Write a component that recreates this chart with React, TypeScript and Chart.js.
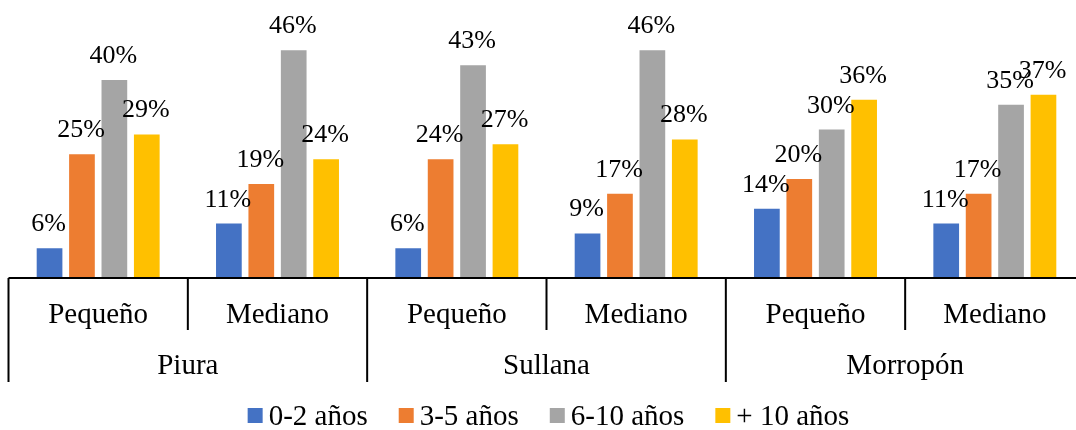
import React, { useEffect, useRef } from "react";
import { Chart, registerables } from "chart.js";

Chart.register(...registerables);

const categories = ["Pequeño", "Mediano", "Pequeño", "Mediano", "Pequeño", "Mediano"];
const regions = ["Piura", "Sullana", "Morropón"];
const seriesNames = ["0-2 años", "3-5 años", "6-10 años", "+ 10 años"];
const s0a2 = [6, 11, 6, 9, 14, 11];
const s3a5 = [25, 19, 24, 17, 20, 17];
const s6a10 = [40, 46, 43, 46, 30, 35];
const sMas10 = [29, 24, 27, 28, 36, 37];
const colors = ["#4472C4", "#ED7D31", "#A5A5A5", "#FFC000"];

const FONT = '"Liberation Serif", "Times New Roman", serif';

const multiAxisPlugin = {
  id: "multiAxisPlugin",
  afterDatasetsDraw(chart: any) {
    const ctx = chart.ctx;
    ctx.save();
    ctx.font = `26px ${FONT}`;
    ctx.fillStyle = "#000";
    ctx.textAlign = "center";
    ctx.textBaseline = "alphabetic";
    chart.data.datasets.forEach((ds: any, di: number) => {
      const meta = chart.getDatasetMeta(di);
      meta.data.forEach((el: any, i: number) => {
        ctx.fillText(`${ds.data[i]}%`, el.x - 1, el.y - 17);
      });
    });
    ctx.restore();
  },
  afterDraw(chart: any) {
    const ctx = chart.ctx;
    const area = chart.chartArea;
    const x = chart.scales.x;
    const n = categories.length;
    const c0 = x.getPixelForValue(0);
    const w = x.getPixelForValue(1) - c0;
    const bound = (k: number) => c0 - w / 2 + k * w;
    const base = area.bottom;
    ctx.save();
    ctx.strokeStyle = "#000";
    ctx.lineWidth = 2;
    ctx.beginPath();
    ctx.moveTo(bound(0), base);
    ctx.lineTo(bound(n), base);
    for (let k = 0; k <= n; k++) {
      const len = k % 2 === 0 ? 104 : 52;
      ctx.moveTo(bound(k), base);
      ctx.lineTo(bound(k), base + len);
    }
    ctx.stroke();
    ctx.fillStyle = "#000";
    ctx.font = `29px ${FONT}`;
    ctx.textAlign = "center";
    ctx.textBaseline = "alphabetic";
    categories.forEach((c, i) => {
      ctx.fillText(c, x.getPixelForValue(i), base + 45);
    });
    regions.forEach((r, ri) => {
      const cx = (x.getPixelForValue(ri * 2) + x.getPixelForValue(ri * 2 + 1)) / 2;
      ctx.fillText(r, cx, base + 96);
    });

    // legend
    const box = 15;
    const gapText = 6;
    const gapItem = 31;
    const ds = chart.data.datasets;
    const widths = ds.map((d: any) => box + gapText + ctx.measureText(d.label).width);
    const total = widths.reduce((a: number, b: number) => a + b, 0) + gapItem * (ds.length - 1);
    let lx = (area.left + area.right) / 2 + 2 - total / 2;
    const ly = base + 147;
    ctx.textAlign = "left";
    ds.forEach((d: any, i: number) => {
      ctx.fillStyle = d.backgroundColor;
      ctx.fillRect(lx, ly - 17, box, box);
      ctx.fillStyle = "#000";
      ctx.fillText(d.label, lx + box + gapText, ly);
      lx += widths[i] + gapItem;
    });
    ctx.restore();
  },
};

export default function App() {
  const ref = useRef<HTMLCanvasElement | null>(null);

  useEffect(() => {
    document.body.style.margin = "0";
    document.body.style.overflow = "hidden";
    if (!ref.current) return;
    const series = [s0a2, s3a5, s6a10, sMas10];
    const chart = new Chart(ref.current, {
      type: "bar",
      data: {
        labels: categories,
        datasets: series.map((d, i) => ({
          label: seriesNames[i],
          data: d,
          backgroundColor: colors[i],
          borderWidth: 0,
          categoryPercentage: 0.723,
          barPercentage: 0.793,
        })),
      },
      options: {
        responsive: false,
        animation: false,
        events: [],
        layout: { padding: { left: 8.5, right: 10.5, top: 30.5, bottom: 58 } },
        scales: {
          x: {
            offset: true,
            grid: { display: false, drawTicks: false },
            border: { display: false },
            ticks: { display: false },
            afterFit: (scale: any) => {
              scale.height = 104;
            },
          },
          y: {
            display: false,
            min: 0,
            max: 50,
          },
        },
        plugins: {
          tooltip: { enabled: false },
          legend: { display: false },
        },
      },
      plugins: [multiAxisPlugin],
    });
    return () => chart.destroy();
  }, []);

  return (
    <div
      style={{
        position: "fixed",
        left: 0,
        top: 0,
        width: 1076,
        height: 430,
        overflow: "hidden",
        background: "#fff",
      }}
    >
      <canvas ref={ref} width={1095} height={440} style={{ width: 1095, height: 440, display: "block" }} />
    </div>
  );
}
